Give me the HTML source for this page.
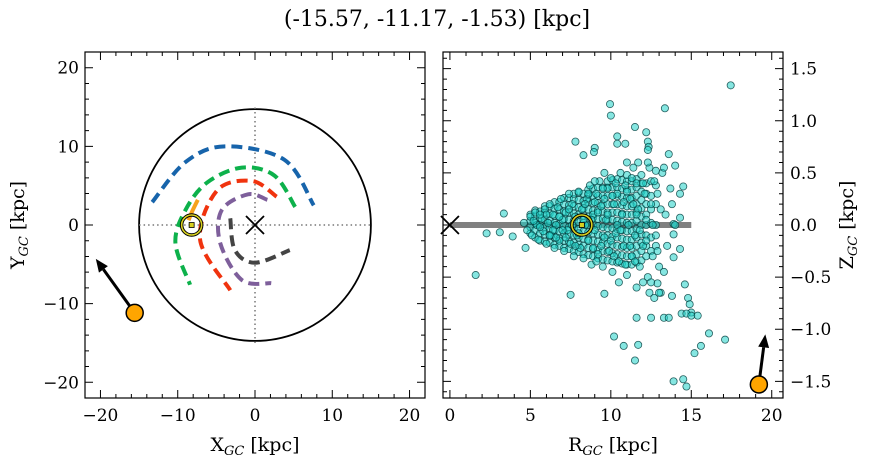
<!DOCTYPE html>
<html><head><meta charset="utf-8">
<style>
body{margin:0;background:#fff;}
svg{display:block;font-family:"DejaVu Serif","Liberation Serif",serif;}
</style></head>
<body>
<svg id="fig" width="874" height="464" viewBox="0 0 874 464" xmlns="http://www.w3.org/2000/svg">
<text x="437" y="26" font-size="22" text-anchor="middle">(-15.57, -11.17, -1.53) [kpc]</text>
<g id="left"></g>
<g id="right"></g>
</svg>
<script>
// ---- data ----
const starXYZ = [-15.57, -11.17, -1.53];
const starArrowXY = [-20.6, -4.3];
const starArrowRZ = [19.6, -1.05];
const starR = 19.2;
const sunXY = [-8.2, 0];
const sunRZ = [8.2, 0];
const discRadius = 15;
const leftTicks = [-20, -10, 0, 10, 20];
const rightXTicks = [0, 5, 10, 15, 20];
const rightYTicks = [-1.5, -1.0, -0.5, 0.0, 0.5, 1.0, 1.5];
const rightYTickLabels = ["\u22121.5", "\u22121.0", "\u22120.5", "0.0", "0.5", "1.0", "1.5"];
const orbitBlue = [[-13.3,2.9],[-9,8],[-3.9,10],[3.8,8.3],[7.6,2.5]];
const orbitGreen = [[5.2,2.3],[2.5,6.3],[-1.7,7.3],[-6.2,5.4],[-9.0,1.9],[-10.3,-2.3],[-8.4,-7.6]];
const orbitRed = [[2.8,3.6],[-0.4,5.6],[-4.9,4.4],[-7.1,-1.9],[-3.2,-8.3]];
const orbitPurple = [[1.6,3.2],[-0.9,3.9],[-4.3,1.9],[-4.5,-2.3],[-1.7,-7.0],[2.1,-7.4]];
const orbitGray = [[-3.2,0.85],[-2.6,-3.2],[0,-4.8],[4.5,-3.2]];
const orbitOrange = [[-7.4,3.2],[-8.1,1.8],[-8.6,0.6]];
const clusterR = [17.45,9.95,10.0,13.36,11.5,12.2,10.4,10.4,10.9,12.3,12.35,12.3,7.8,9.0,8.95,8.3,13.6,14.0,14.5,14.3,13.9,13.9,14.3,13.9,3.35,2.28,3.1,3.9,4.7,1.6,7.5,9.6,11.6,14.6,14.8,14.9,15.0,14.4,14.7,15.0,15.4,13.3,13.6,12.5,12.4,12.7,13.1,12.9,13.0,13.8,16.1,17.1,15.6,15.2,10.2,10.8,11.7,11.5,13.9,14.5,14.7,
4.6,4.8,5.0,5.1,5.3,5.4,5.5,5.7,5.8,5.9,6.0,6.1,6.2,6.3,6.4,6.5,6.6,6.7,6.8,6.9,7.0,7.1,7.2,7.3,7.4,7.5,7.6,7.7,7.8,7.9,8.0,8.1,8.2,8.3,8.4,8.5,8.6,8.7,8.8,8.9,9.0,9.1,9.2,9.3,9.4,9.5,9.6,9.7,9.8,9.9,10.0,10.1,10.2,10.3,10.4,10.5,10.6,10.7,10.8,10.9,11.0,11.1,11.2,11.3,11.4,11.5,11.6,11.7,11.8,11.9,12.0,12.1,12.2,12.3,12.4,12.5,12.6,12.7,12.8,12.9,13.0,13.2,13.4,13.5,13.7,13.8,14.0,14.3,
5.2,5.6,6.0,6.4,6.8,7.2,7.6,8.0,8.4,8.8,9.2,9.6,10.0,10.4,10.8,11.2,11.6,12.0,9.0,9.4,9.8,10.2,10.6,11.0,11.4,11.8,12.2,8.6,7.4,7.8,6.6,9.1,10.3,10.9,11.5,12.6,13.1,12.9,11.3,10.1,9.5,8.9,8.3,7.0,6.2,5.6,11.7,12.3,12.8,13.3,11.0,9.6,9.0,12.0,12.5,11.6,13.3,10.5];
const clusterZ = [1.34,1.16,1.05,1.12,0.94,0.89,0.85,0.78,0.78,0.80,0.75,0.72,0.80,0.74,0.70,0.67,0.68,0.57,0.37,0.07,0.01,-0.09,-0.23,-0.31,0.11,-0.08,-0.07,-0.11,-0.22,-0.48,-0.67,-0.66,-0.89,-0.57,-0.70,-0.76,-0.84,-0.85,-0.85,-0.87,-0.87,-0.89,-0.89,-0.89,-0.65,-0.70,-0.65,-0.56,-0.65,-0.68,-1.04,-1.10,-1.16,-1.23,-1.07,-1.16,-1.15,-1.30,-1.50,-1.48,-1.55,
0.02,-0.05,0.08,-0.1,0.12,0.0,-0.14,0.06,-0.06,0.15,-0.18,0.02,0.2,-0.1,0.1,-0.22,0.0,0.17,-0.15,0.25,0.05,-0.25,0.12,-0.05,0.3,-0.18,0.2,-0.3,0.08,-0.1,0.32,-0.22,0.15,-0.32,0.0,0.25,-0.15,0.38,-0.38,0.1,-0.05,0.3,-0.28,0.42,0.18,-0.4,-0.12,0.05,0.35,-0.25,0.45,-0.45,0.2,-0.08,0.3,-0.35,0.5,0.1,-0.2,0.38,-0.48,0.0,0.25,-0.3,0.55,-0.1,0.4,0.15,-0.4,0.48,-0.2,0.3,0.05,-0.5,0.55,0.2,-0.3,0.42,-0.1,0.3,-0.4,0.5,0.1,-0.2,0.35,0.2,0.0,0.3,
0.04,-0.02,0.1,-0.05,0.08,-0.12,0.0,-0.08,0.2,0.05,0.12,0.25,-0.15,0.0,0.22,-0.2,0.1,0.4,0.22,-0.2,0.1,-0.3,-0.05,0.32,0.2,-0.05,-0.15,0.3,0.15,-0.2,-0.12,-0.35,0.4,-0.38,-0.35,0.0,0.15,-0.25,0.45,0.28,0.35,-0.22,0.05,-0.05,-0.1,0.1,0.6,0.6,0.52,0.55,0.6,0.5,0.42,-0.55,-0.55,-0.6,-0.45,-0.55];
// dense core of the cluster, read column by column: [R, [z values]]
const coreColumns = [
 [5.0,[-0.08,-0.02,0.04,0.1]],
 [5.3,[-0.12,-0.05,0.02,0.09,0.14]],
 [5.6,[-0.15,-0.08,0.0,0.07,0.13]],
 [5.9,[-0.16,-0.09,-0.02,0.05,0.12,0.18]],
 [6.2,[-0.17,-0.1,-0.03,0.04,0.11,0.18]],
 [6.5,[-0.19,-0.12,-0.05,0.02,0.09,0.16,0.22]],
 [6.8,[-0.2,-0.13,-0.06,0.01,0.08,0.15,0.22]],
 [7.1,[-0.22,-0.15,-0.08,-0.01,0.06,0.13,0.2,0.26]],
 [7.4,[-0.23,-0.16,-0.09,-0.02,0.05,0.12,0.19,0.26]],
 [7.7,[-0.25,-0.17,-0.1,-0.03,0.04,0.11,0.18,0.25,0.3]],
 [8.0,[-0.26,-0.19,-0.12,-0.04,0.03,0.1,0.17,0.24,0.31]],
 [8.3,[-0.28,-0.2,-0.13,-0.06,0.02,0.09,0.16,0.23,0.3]],
 [8.6,[-0.29,-0.22,-0.14,-0.07,0.0,0.08,0.15,0.22,0.29,0.34]],
 [8.9,[-0.3,-0.23,-0.15,-0.08,0.0,0.07,0.14,0.21,0.28,0.35]],
 [9.2,[-0.32,-0.24,-0.16,-0.09,-0.01,0.06,0.14,0.21,0.28,0.36]],
 [9.5,[-0.33,-0.25,-0.17,-0.1,-0.02,0.06,0.13,0.2,0.28,0.36]],
 [9.8,[-0.34,-0.26,-0.18,-0.1,-0.03,0.05,0.12,0.2,0.28,0.36,0.42]],
 [10.1,[-0.35,-0.27,-0.19,-0.11,-0.03,0.05,0.12,0.2,0.28,0.36,0.43]],
 [10.4,[-0.36,-0.28,-0.2,-0.12,-0.04,0.04,0.12,0.2,0.28,0.36,0.44]],
 [10.7,[-0.37,-0.29,-0.21,-0.13,-0.05,0.03,0.11,0.19,0.27,0.35,0.43]],
 [11.0,[-0.38,-0.3,-0.22,-0.14,-0.06,0.02,0.1,0.18,0.26,0.34,0.42,0.48]],
 [11.3,[-0.38,-0.3,-0.22,-0.14,-0.06,0.02,0.1,0.18,0.26,0.34,0.42]],
 [11.6,[-0.36,-0.28,-0.2,-0.12,-0.04,0.04,0.12,0.2,0.28,0.36,0.44]],
 [11.9,[-0.34,-0.25,-0.17,-0.09,0.0,0.08,0.16,0.24,0.32,0.4]],
 [12.2,[-0.3,-0.2,-0.1,0.0,0.1,0.2,0.3,0.4]],
 [12.5,[-0.25,-0.12,0.02,0.15,0.28,0.42]],
 [12.8,[-0.2,0.0,0.2,0.38]]
];

// ---- helpers ----
const NS = "http://www.w3.org/2000/svg";
function mk(parent, tag, attrs, name) {
  const e = document.createElementNS(NS, tag);
  for (const k in attrs) e.setAttribute(k, attrs[k]);
  
  
  parent.appendChild(e);
  return e;
}
const L = {x0:85, x1:425, y0:52, y1:398, xmin:-22, xmax:22, ymin:-22, ymax:22};
const R = {x0:443, x1:783, y0:52, y1:398, xmin:-0.43, xmax:20.7, ymin:-1.66, ymax:1.66};
const lx = v => L.x0 + (v - L.xmin) / (L.xmax - L.xmin) * (L.x1 - L.x0);
const ly = v => L.y1 - (v - L.ymin) / (L.ymax - L.ymin) * (L.y1 - L.y0);
const rx = v => R.x0 + (v - R.xmin) / (R.xmax - R.xmin) * (R.x1 - R.x0);
const ry = v => R.y1 - (v - R.ymin) / (R.ymax - R.ymin) * (R.y1 - R.y0);

function spline(pts, fx, fy) {
  const p = pts.map(q => [fx(q[0]), fy(q[1])]);
  let d = `M${p[0][0]},${p[0][1]}`;
  for (let i = 0; i < p.length - 1; i++) {
    const p0 = p[Math.max(0, i-1)], p1 = p[i], p2 = p[i+1], p3 = p[Math.min(p.length-1, i+2)];
    const c1 = [p1[0] + (p2[0]-p0[0])/6, p1[1] + (p2[1]-p0[1])/6];
    const c2 = [p2[0] - (p3[0]-p1[0])/6, p2[1] - (p3[1]-p1[1])/6];
    d += ` C${c1[0]},${c1[1]} ${c2[0]},${c2[1]} ${p2[0]},${p2[1]}`;
  }
  return d;
}
function cross(g, cx, cy, s, name) {
  mk(g, 'path', {d:`M${cx-s},${cy-s}L${cx+s},${cy+s}M${cx-s},${cy+s}L${cx+s},${cy-s}`, stroke:'#000', 'stroke-width':1.8, fill:'none'}, name);
}
function sun(g, cx, cy, name) {
  mk(g, 'circle', {cx, cy, r:10, fill:'none', stroke:'#000', 'stroke-width':3.5}, name + '-ring-outer');
  mk(g, 'circle', {cx, cy, r:10, fill:'none', stroke:'#d8d020', 'stroke-width':1.6}, name + '-ring');
  mk(g, 'rect', {x:cx-2.5, y:cy-2.5, width:5, height:5, fill:'#d8d020', stroke:'#000', 'stroke-width':0.8}, name + '-center');
}
function arrow(g, x1, y1, x2, y2, name) {
  const a = Math.atan2(y2-y1, x2-x1), h = 13, w = 5.5;
  const bx = x2 - h*Math.cos(a), by = y2 - h*Math.sin(a);
  mk(g, 'line', {x1, y1, x2:bx, y2:by, stroke:'#000', 'stroke-width':3}, name + '-shaft');
  mk(g, 'path', {d:`M${x2},${y2}L${bx - w*Math.sin(a)},${by + w*Math.cos(a)}L${bx + w*Math.sin(a)},${by - w*Math.cos(a)}Z`, fill:'#000'}, name + '-head');
}
function frameTicks(g, A, fx, fy, xmaj, xmin, ymaj, ymin) {
  mk(g, 'rect', {x:A.x0, y:A.y0, width:A.x1-A.x0, height:A.y1-A.y0, fill:'none', stroke:'#000', 'stroke-width':1.2}, 'axes-frame');
  let d = '';
  xmin.forEach(v => { const x = fx(v); d += `M${x},${A.y1}v-4M${x},${A.y0}v4`; });
  xmaj.forEach(v => { const x = fx(v); d += `M${x},${A.y1}v-8M${x},${A.y0}v8`; });
  ymin.forEach(v => { const y = fy(v); d += `M${A.x0},${y}h4M${A.x1},${y}h-4`; });
  ymaj.forEach(v => { const y = fy(v); d += `M${A.x0},${y}h8M${A.x1},${y}h-8`; });
  mk(g, 'path', {d, stroke:'#000', 'stroke-width':1, fill:'none'}, 'tick-marks');
}
function range(a, b, s) { const r = []; for (let v = a; v <= b + 1e-9; v += s) r.push(+v.toFixed(3)); return r; }

// ---- left panel ----
const gl = document.getElementById('left');
mk(gl, 'circle', {cx:lx(0), cy:ly(0), r:lx(discRadius)-lx(0), fill:'none', stroke:'#000', 'stroke-width':1.8}, 'disc-outline');
mk(gl, 'line', {x1:lx(0), y1:ly(-discRadius), x2:lx(0), y2:ly(discRadius), stroke:'#777', 'stroke-width':1.5, 'stroke-dasharray':'1.5,3'}, 'vertical-dotted-line');
mk(gl, 'line', {x1:lx(-discRadius), y1:ly(0), x2:lx(discRadius), y2:ly(0), stroke:'#777', 'stroke-width':1.5, 'stroke-dasharray':'1.5,3'}, 'horizontal-dotted-line');
const orbits = [[orbitBlue,'#1764ab','orbit-blue'],[orbitGreen,'#0db14b','orbit-green'],[orbitRed,'#f0330e','orbit-red'],[orbitPurple,'#7e5f9b','orbit-purple'],[orbitGray,'#444','orbit-gray']];
orbits.forEach(o => mk(gl, 'path', {d:spline(o[0], lx, ly), fill:'none', stroke:o[1], 'stroke-width':4, 'stroke-dasharray':'11,6'}, o[2]));
mk(gl, 'path', {d:spline(orbitOrange, lx, ly), fill:'none', stroke:'#f7a21b', 'stroke-width':4}, 'orbit-orange');
cross(gl, lx(0), ly(0), 9, 'galactic-center-marker');
sun(gl, lx(sunXY[0]), ly(sunXY[1]), 'sun-marker');
arrow(gl, lx(starXYZ[0]), ly(starXYZ[1]), lx(starArrowXY[0]), ly(starArrowXY[1]), 'velocity-arrow-xy');
mk(gl, 'circle', {cx:lx(starXYZ[0]), cy:ly(starXYZ[1]), r:8.5, fill:'#ffa500', stroke:'#000', 'stroke-width':1.5}, 'star-position-xy');
frameTicks(gl, L, lx, ly, leftTicks, range(-22, 22, 2), leftTicks, range(-22, 22, 2));
leftTicks.forEach(v => {
  mk(gl, 'text', {x:lx(v), y:L.y1+23, 'font-size':17, 'text-anchor':'middle'}, 'x-tick-label').textContent = v < 0 ? '\u2212' + (-v) : String(v);
  mk(gl, 'text', {x:L.x0-6, y:ly(v)+6, 'font-size':17, 'text-anchor':'end'}, 'y-tick-label').textContent = v < 0 ? '\u2212' + (-v) : String(v);
});
const xl = mk(gl, 'text', {x:255, y:451, 'font-size':19, 'text-anchor':'middle'}, 'x-axis-title');
xl.innerHTML = 'X<tspan font-size="13" dy="4" font-style="italic">GC</tspan><tspan dy="-4"> [kpc]</tspan>';
const yl = mk(gl, 'text', {x:0, y:0, 'font-size':19, 'text-anchor':'middle', transform:'translate(24,225) rotate(-90)'}, 'y-axis-title');
yl.innerHTML = 'Y<tspan font-size="13" dy="4" font-style="italic">GC</tspan><tspan dy="-4"> [kpc]</tspan>';

// ---- right panel ----
const gr = document.getElementById('right');
mk(gr, 'line', {x1:rx(0), y1:ry(0), x2:rx(discRadius), y2:ry(0), stroke:'#808080', 'stroke-width':6}, 'disc-plane-line');
const gs = mk(gr, 'g', {}, 'cluster-scatter');
function dot(r, z) {
  mk(gs, 'circle', {cx:rx(r), cy:ry(z), r:3.6, fill:'rgba(32,210,200,0.55)', stroke:'rgba(0,60,60,0.8)', 'stroke-width':0.8}, 'scatter-point');
}
coreColumns.forEach(col => col[1].forEach(z => dot(col[0], z)));
for (let i = 0; i < clusterR.length; i++) dot(clusterR[i], clusterZ[i]);
cross(gr, rx(0), ry(0), 9, 'galactic-center-marker-rz');
sun(gr, rx(sunRZ[0]), ry(sunRZ[1]), 'sun-marker-rz');
arrow(gr, rx(starR), ry(starXYZ[2]), rx(starArrowRZ[0]), ry(starArrowRZ[1]), 'velocity-arrow-rz');
mk(gr, 'circle', {cx:rx(starR), cy:ry(starXYZ[2]), r:8.5, fill:'#ffa500', stroke:'#000', 'stroke-width':1.5}, 'star-position-rz');
frameTicks(gr, R, rx, ry, rightXTicks, range(0, 20, 1), rightYTicks, range(-1.6, 1.6, 0.1));
rightXTicks.forEach(v => {
  mk(gr, 'text', {x:rx(v), y:R.y1+23, 'font-size':17, 'text-anchor':'middle'}, 'x-tick-label-rz').textContent = String(v);
});
rightYTicks.forEach((v, i) => {
  mk(gr, 'text', {x:R.x1+7, y:ry(v)+6, 'font-size':17, 'text-anchor':'start'}, 'y-tick-label-rz').textContent = rightYTickLabels[i];
});
const xr = mk(gr, 'text', {x:613, y:451, 'font-size':19, 'text-anchor':'middle'}, 'x-axis-title-rz');
xr.innerHTML = 'R<tspan font-size="13" dy="4" font-style="italic">GC</tspan><tspan dy="-4"> [kpc]</tspan>';
const yr = mk(gr, 'text', {x:0, y:0, 'font-size':19, 'text-anchor':'middle', transform:'translate(853,225) rotate(-90)'}, 'y-axis-title-rz');
yr.innerHTML = 'Z<tspan font-size="13" dy="4" font-style="italic">GC</tspan><tspan dy="-4"> [kpc]</tspan>';
</script>
</body></html>
